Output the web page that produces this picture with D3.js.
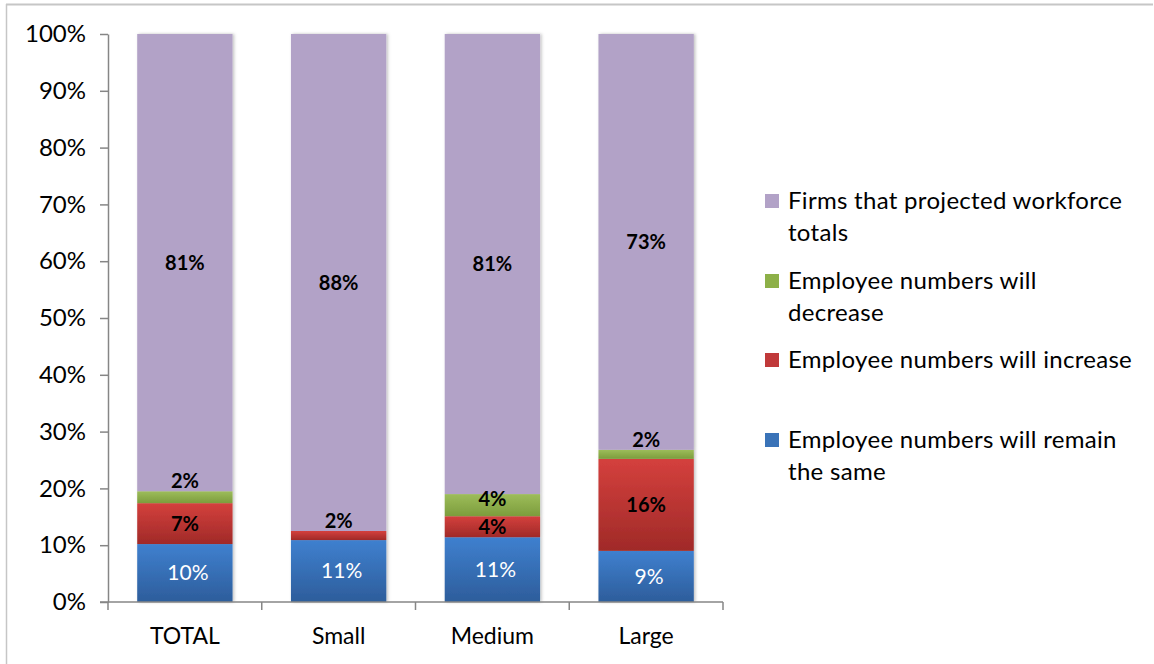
<!DOCTYPE html>
<html><head><meta charset="utf-8">
<script src="https://cdn.jsdelivr.net/npm/d3@7"></script>
<style>body{margin:0;background:#fff}svg{display:block}text{font-family:Lato,"Open Sans",sans-serif}</style>
</head><body><svg id="c" width="1154" height="664"></svg>
<script>
const categories = ["TOTAL", "Small", "Medium", "Large"];
const seriesNames = ["Employee numbers will remain the same", "Employee numbers will increase", "Employee numbers will decrease", "Firms that projected workforce totals"];
const remainSame = [10.2, 10.9, 11.4, 9.0];
const increase = [7.2, 1.6, 3.7, 16.2];
const decrease = [2.1, 0, 3.9, 1.6];
const projected = [80.5, 87.5, 81.0, 73.2];
const remainLabels = ["10%", "11%", "11%", "9%"];
const increaseLabels = ["7%", "2%", "4%", "16%"];
const decreaseLabels = ["2%", "", "4%", "2%"];
const projectedLabels = ["81%", "88%", "81%", "73%"];
const yTicks = [0, 10, 20, 30, 40, 50, 60, 70, 80, 90, 100];
const legendLines = [["Firms that projected workforce", "totals"], ["Employee numbers will", "decrease"], ["Employee numbers will increase"], ["Employee numbers will remain", "the same"]];

const svg = d3.select("#c");
// frame
svg.append("line").attr("x1",6).attr("x2",1153).attr("y1",4.5).attr("y2",4.5).attr("stroke","#c6c6c6").attr("stroke-width",2);
svg.append("line").attr("x1",6.5).attr("x2",6.5).attr("y1",4).attr("y2",664).attr("stroke","#c6c6c6").attr("stroke-width",1.5);

const x = d3.scaleBand().domain(categories).range([108, 723]).paddingInner(0.38).paddingOuter(0.19);
const y = d3.scaleLinear().domain([0, 100]).range([602, 34]);

const defs = svg.append("defs");
const grads = [["gBlue","#3f80cf","#2d5d9b"],["gRed","#d4403d","#a02a28"],["gGreen","#9dbd5a","#7c9c3c"],["gPurple","#b2a2c7","#b2a2c7"]];
grads.forEach(([id,c1,c2])=>{
  const g = defs.append("linearGradient").attr("id",id).attr("x1",0).attr("x2",0).attr("y1",0).attr("y2",1);
  g.append("stop").attr("offset","0%").attr("stop-color",c1);
  g.append("stop").attr("offset","100%").attr("stop-color",c2);
});
const f = defs.append("filter").attr("id","sh").attr("x","-10%").attr("y","-10%").attr("width","130%").attr("height","130%");
f.append("feDropShadow").attr("dx",1.5).attr("dy",0).attr("stdDeviation",1.5).attr("flood-color","#000").attr("flood-opacity",0.25);

const seriesVals = [remainSame, increase, decrease, projected];
const seriesLabels = [remainLabels, increaseLabels, decreaseLabels, projectedLabels];
const fills = ["url(#gBlue)","url(#gRed)","url(#gGreen)","url(#gPurple)"];
const legendColors = ["#b2a2c7","#8db048","#c0393a","#3a73b8"];

const rows = categories.map((c,i)=>{ const o={cat:c}; seriesVals.forEach((s,k)=>o["s"+k]=s[i]); return o; });
const stack = d3.stack().keys(["s0","s1","s2","s3"])(rows);

// bars
const barG = svg.append("g");
categories.forEach((c,i)=>{
  const g = barG.append("g").attr("filter","url(#sh)");
  stack.forEach((layer,k)=>{
    const d = layer[i];
    if (d[1]-d[0] <= 0) return;
    g.append("rect").attr("x",x(c)).attr("width",x.bandwidth())
      .attr("y",y(d[1])).attr("height",y(d[0])-y(d[1])).attr("fill",fills[k]);
  });
});

// axes
const yAxis = svg.append("g").attr("transform","translate(108,0)")
  .call(d3.axisLeft(y).tickValues(yTicks).tickFormat(d=>d+"%").tickSize(8).tickSizeOuter(0));
yAxis.select(".domain").attr("stroke","#868686").attr("stroke-width",1.5);
yAxis.selectAll(".tick line").attr("stroke","#868686").attr("stroke-width",1.5);
yAxis.selectAll(".tick text").attr("x",-22).attr("font-size",24).attr("fill","#000").attr("font-family","Lato");

const xAxis = svg.append("g").attr("transform","translate(0,602)");
xAxis.append("line").attr("x1",100).attr("x2",723).attr("y1",0).attr("y2",0).attr("stroke","#868686").attr("stroke-width",1.5);
const bounds = [108].concat(categories.map((c,i)=>108 + (i+1)*((723-108)/categories.length)));
xAxis.selectAll("line.t").data(bounds).join("line").attr("class","t")
  .attr("x1",d=>d).attr("x2",d=>d).attr("y1",0).attr("y2",8).attr("stroke","#868686").attr("stroke-width",1.5);
xAxis.selectAll("text").data(categories).join("text")
  .attr("x",d=>x(d)+x.bandwidth()/2).attr("y",42).attr("text-anchor","middle")
  .attr("font-size",23).attr("fill","#000").text(d=>d);

// labels
const labG = svg.append("g");
categories.forEach((c,i)=>{
  stack.forEach((layer,k)=>{
    const d = layer[i];
    const t = seriesLabels[k][i];
    if (!t) return;
    const top = y(d[1]), bot = y(d[0]);
    let cy = (top+bot)/2;
    if (bot-top < 15) cy = top - 10;
    else if (bot-top < 25 && k === 2) cy -= 6;
    labG.append("text").attr("x",x(c)+x.bandwidth()/2 + (k===0?3:0)).attr("y",cy).attr("dy","0.35em")
      .attr("text-anchor","middle").attr("font-size",k===0?21:20).attr("font-weight",k===0?"normal":"bold")
      .attr("fill",k===0?"#fff":"#000").text(t);
  });
});

// legend
const legY = [201, 281, 360, 440];
const leg = svg.append("g");
legendLines.forEach((lines,i)=>{
  leg.append("rect").attr("x",765).attr("y",legY[i]-7).attr("width",14).attr("height",14).attr("fill",legendColors[i]);
  lines.forEach((ln,j)=>{
    leg.append("text").attr("x",788).attr("y",legY[i]+j*32).attr("dy","0.35em").attr("font-size",24).attr("letter-spacing",0.3).attr("fill","#000").text(ln);
  });
});
</script></body></html>
